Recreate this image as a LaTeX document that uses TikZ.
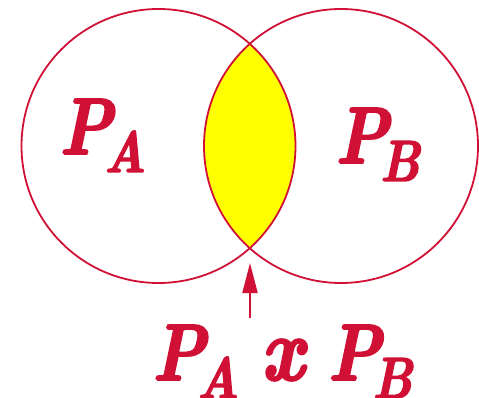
\documentclass[tikz,border=0pt]{standalone}
\usepackage{fontspec}
\newfontface\heavyfont{lmroman10-bolditalic.otf}[FakeBold=2.5, FakeStretch=0.84]
\usetikzlibrary{arrows.meta}
\definecolor{vred}{RGB}{208,16,52}
\definecolor{lensyellow}{RGB}{255,255,0}
\tikzset{
  setcircle/.style={circle, draw=vred, line width=1.8pt, minimum size=274pt, inner sep=0pt},
  biglabel/.style={text=vred, inner sep=0pt, anchor=base west, font=\heavyfont\fontsize{80}{80}\selectfont},
  pointer/.style={draw=vred, line width=2pt, -{Triangle[width=15pt,length=30pt]}}
}
\newcommand{\subl}[1]{\raisebox{-18pt}{\fontsize{58}{58}\selectfont #1}}
\newcommand{\bigx}{{\fontsize{90}{90}\selectfont x}}
\begin{document}
\begin{tikzpicture}[x=1pt,y=-1pt]
\useasboundingbox (0,0) rectangle (479,398);
\begin{scope}
  \clip (158.5,146) circle (137);
  \fill[lensyellow] (341,146) circle (137);
\end{scope}
\node[setcircle] (ca) at (158.5,146) {};
\node[setcircle] (cb) at (341,146) {};
\node[biglabel] (pa) at (59,154) {P\kern-8pt\subl{A}};
\node[biglabel] (pb) at (335,163) {P\kern-8pt\subl{B}};
\node[biglabel] (pab) at (152,380) {P\kern-8pt\subl{A}\kern 22pt\bigx\kern 24pt P\kern-8pt\subl{B}};
\coordinate (tail) at (250,318);
\coordinate (tip) at (250,263);
\draw[pointer] (tail) -- (tip);
\end{tikzpicture}
\end{document}
